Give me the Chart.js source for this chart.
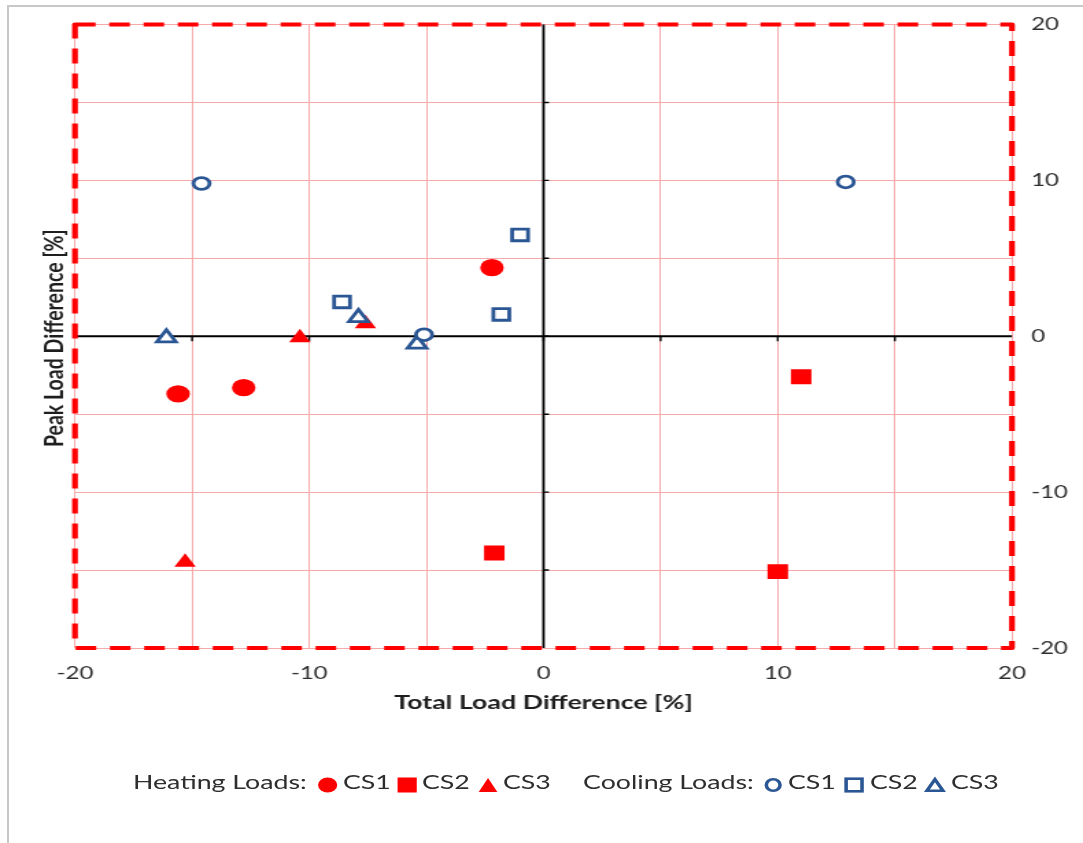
<!DOCTYPE html>
<html>
<head>
<meta charset="utf-8">
<script src="https://cdn.jsdelivr.net/npm/chart.js@4.4.1/dist/chart.umd.min.js"></script>
<style>
  html, body { margin: 0; padding: 0; background: #fff; }
  body { width: 1083px; height: 843px; overflow: hidden; position: relative; }
  #frame { position: absolute; left: 7px; top: 5px; width: 1100px; height: 900px;
           border-top: 2px solid #c8c8c8; border-left: 2px solid #c8c8c8; }
  /* the original picture is a horizontally stretched chart, so draw narrow and stretch */
  #stage { position: absolute; left: 0; top: 0; width: 790px; height: 843px;
           transform: scaleX(1.3709); transform-origin: 0 0; }
  #legend span { position: absolute; font-family: Lato; font-size: 19.5px; line-height: 18px;
                 color: #2e2e2e; white-space: nowrap; }
  #legend svg { position: absolute; overflow: visible; }
</style>
</head>
<body>
<div id="frame"></div>
<div id="stage">
  <canvas id="chart" width="790" height="843"></canvas>
  <div id="legend"></div>
</div>
<script>
// tick labels
const xTickLabels = [-20, -10, 0, 10, 20];
const yTickLabels = [-20, -10, 0, 10, 20];

// series values (Total Load Difference %, Peak Load Difference %)
const heatCS1X = [-15.6, -12.8, -2.2];
const heatCS1Y = [-3.7, -3.3, 4.4];
const heatCS2X = [11.0, -2.1, 10.0];
const heatCS2Y = [-2.6, -13.9, -15.1];
const heatCS3X = [-10.4, -7.6, -15.3];
const heatCS3Y = [-0.1, 0.8, -14.5];
const coolCS1X = [-14.6, -5.1, 12.9];
const coolCS1Y = [9.8, 0.1, 9.9];
const coolCS2X = [-1.0, -8.6, -1.8];
const coolCS2Y = [6.5, 2.2, 1.4];
const coolCS3X = [-16.1, -7.9, -5.4];
const coolCS3Y = [-0.1, 1.2, -0.5];

const legendGroups = ['Heating Loads:', 'Cooling Loads:'];
const caseNames = ['CS1', 'CS2', 'CS3'];

const RED = '#ff0000';
const BLUE = '#2b5694';

const pts = (xs, ys) => xs.map((x, i) => ({ x: x, y: ys[i] }));

function heatSet(label, xs, ys, style, r) {
  return { label: label, data: pts(xs, ys), pointStyle: style, pointRadius: r, pointHoverRadius: r,
           backgroundColor: RED, borderColor: RED, borderWidth: 0, order: 2 };
}
function coolSet(label, xs, ys, style, r) {
  return { label: label, data: pts(xs, ys), pointStyle: style, pointRadius: r, pointHoverRadius: r,
           backgroundColor: '#ffffff', borderColor: BLUE, borderWidth: 2.8, order: 1 };
}

const overlay = {
  id: 'overlay',
  beforeDatasetsDraw(chart) {
    const { ctx, chartArea: a, scales: { x, y } } = chart;
    const x0 = x.getPixelForValue(0), y0 = y.getPixelForValue(0);
    ctx.save();
    // black axes through zero
    ctx.strokeStyle = '#000';
    ctx.lineWidth = 1.8;
    ctx.beginPath();
    ctx.moveTo(a.left, y0); ctx.lineTo(a.right, y0);
    ctx.moveTo(x0, a.top); ctx.lineTo(x0, a.bottom);
    ctx.stroke();
    ctx.lineWidth = 1.4;
    ctx.beginPath();
    x.ticks.forEach(t => {
      if (Math.abs(t.value) === 20) return;
      const px = x.getPixelForValue(t.value);
      ctx.moveTo(px, y0); ctx.lineTo(px, y0 + 5);
    });
    y.ticks.forEach(t => {
      if (Math.abs(t.value) === 20) return;
      const py = y.getPixelForValue(t.value);
      ctx.moveTo(x0, py); ctx.lineTo(x0 + 4, py);
    });
    ctx.stroke();
    // dashed plot frame
    ctx.strokeStyle = RED;
    ctx.lineWidth = 4.2;
    ctx.lineJoin = 'round';
    ctx.setLineDash([15, 10]);
    ctx.beginPath();
    ctx.moveTo(a.left, a.top);
    ctx.lineTo(a.right, a.top);
    ctx.lineTo(a.right, a.bottom);
    ctx.lineTo(a.left, a.bottom);
    ctx.closePath();
    ctx.stroke();
    // y title on the left side
    ctx.setLineDash([]);
    ctx.translate(46, (a.top + a.bottom) / 2 + 2);
    ctx.rotate(-Math.PI / 2);
    ctx.fillStyle = '#1e1e1e';
    ctx.font = 'bold 19.5px Lato';
    ctx.textAlign = 'center';
    ctx.textBaseline = 'alphabetic';
    ctx.fillText('Peak Load Difference [%]', 0, 0);
    ctx.restore();
  }
};

function buildLegend() {
  const box = document.getElementById('legend');
  const cy = 784.5;
  const groupLeft = [97, 425.3];
  const symX = [[239, 297.2, 356], [564.2, 623.3, 682]];
  const textLeft = [[250.2, 307.8, 366.9], [574.8, 634.6, 693.7]];
  const span = (txt, left) => {
    const s = document.createElement('span');
    s.textContent = txt;
    s.style.left = left + 'px';
    s.style.top = '773px';
    box.appendChild(s);
  };
  const shapes = [
    ['<ellipse cx="0" cy="0" rx="7" ry="7.5" fill="' + RED + '"/>',
     '<rect x="-7" y="-7.5" width="14" height="15" fill="' + RED + '"/>',
     '<polygon points="0,-7 6.8,7 -6.8,7" fill="' + RED + '"/>'],
    ['<ellipse cx="0" cy="0" rx="5" ry="5.8" fill="none" stroke="' + BLUE + '" stroke-width="2.6"/>',
     '<rect x="-5.8" y="-6.3" width="11.6" height="12.6" fill="none" stroke="' + BLUE + '" stroke-width="2.6"/>',
     '<polygon points="0,-5.6 5.9,5.8 -5.9,5.8" fill="none" stroke="' + BLUE + '" stroke-width="2.6"/>']
  ];
  legendGroups.forEach((g, gi) => {
    span(g, groupLeft[gi]);
    caseNames.forEach((c, ci) => {
      const svg = document.createElementNS('http://www.w3.org/2000/svg', 'svg');
      svg.setAttribute('width', '1'); svg.setAttribute('height', '1');
      svg.style.left = symX[gi][ci] + 'px';
      svg.style.top = cy + 'px';
      svg.innerHTML = shapes[gi][ci];
      box.appendChild(svg);
      span(c, textLeft[gi][ci]);
    });
  });
}

function draw() {
  buildLegend();
  new Chart(document.getElementById('chart'), {
    type: 'scatter',
    data: {
      datasets: [
        heatSet('Heating CS1', heatCS1X, heatCS1Y, 'circle', 8.6),
        heatSet('Heating CS2', heatCS2X, heatCS2Y, 'rect', 10.6),
        heatSet('Heating CS3', heatCS3X, heatCS3Y, 'triangle', 9),
        coolSet('Cooling CS1', coolCS1X, coolCS1Y, 'circle', 5.9),
        coolSet('Cooling CS2', coolCS2X, coolCS2Y, 'rect', 8.2),
        coolSet('Cooling CS3', coolCS3X, coolCS3Y, 'triangle', 8)
      ]
    },
    options: {
      responsive: false,
      animation: false,
      devicePixelRatio: 1,
      layout: { padding: { left: 54.7, top: 22, right: 0, bottom: 0 } },
      plugins: { legend: { display: false }, tooltip: { enabled: false } },
      scales: {
        x: {
          type: 'linear', position: 'bottom', min: -20, max: 20,
          afterFit: s => { s.height = 195; },
          grid: { color: '#f6a9a9', lineWidth: 1, drawTicks: false },
          border: { display: false },
          ticks: {
            stepSize: 5, padding: 15, color: '#2e2e2e', maxRotation: 0, autoSkip: false,
            font: { family: 'Lato', size: 17.5 },
            callback: v => xTickLabels.includes(v) ? String(v) : ''
          },
          title: {
            display: true, text: 'Total Load Difference [%]', color: '#1e1e1e',
            font: { family: 'Lato', size: 19.5, weight: 'bold' },
            padding: { top: 0, bottom: 129 }
          }
        },
        y: {
          type: 'linear', position: 'right', min: -20, max: 20,
          afterFit: s => { s.width = 51.8; },
          grid: { color: '#f6a9a9', lineWidth: 1, drawTicks: false },
          border: { display: false },
          ticks: {
            stepSize: 5, padding: 14, color: '#2e2e2e', autoSkip: false,
            font: { family: 'Lato', size: 17.5 },
            callback: v => yTickLabels.includes(v) ? String(v) : ''
          }
        }
      }
    },
    plugins: [overlay]
  });
}

Promise.all([
  document.fonts.load('17px Lato'),
  document.fonts.load('bold 17px Lato'),
  document.fonts.load('18px Lato')
]).then(draw, draw);
</script>
</body>
</html>
